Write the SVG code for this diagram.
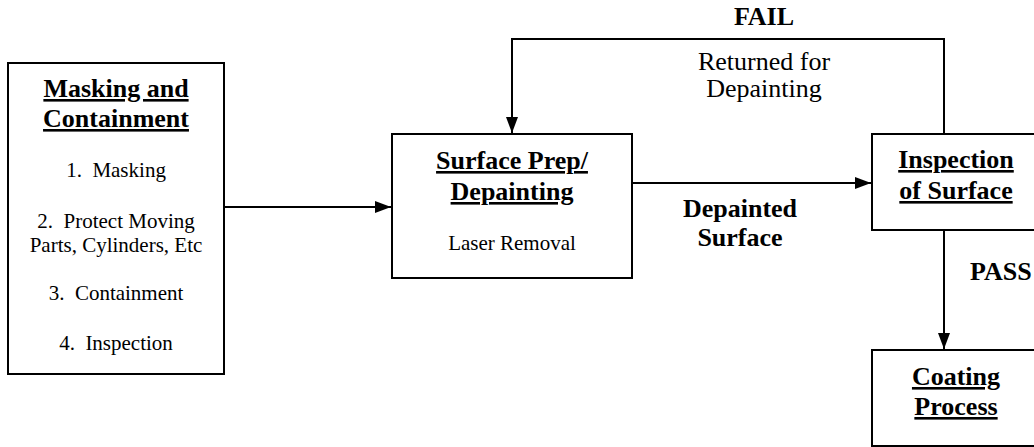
<svg xmlns="http://www.w3.org/2000/svg" width="1034" height="447" viewBox="0 0 1034 447" font-family="'Liberation Serif', 'Times New Roman', Times, serif">
  <style>
    .box { fill: #ffffff; stroke: #000000; stroke-width: 2; }
    .conn { fill: none; stroke: #000000; stroke-width: 2; }
    text { fill: #000000; text-anchor: middle; white-space: pre; }
    .title { font-size: 26px; font-weight: bold; text-decoration: underline; }
    .item { font-size: 21px; }
    .lbl { font-size: 26px; font-weight: bold; }
    .lblr { font-size: 26px; }
  </style>
  <defs>
    <marker id="arrow" markerUnits="userSpaceOnUse" markerWidth="16" markerHeight="12" refX="16" refY="6" orient="auto">
      <path d="M0,0 L16,6 L0,12 Z" fill="#000000"/>
    </marker>
  </defs>
  <rect width="1034" height="447" fill="#ffffff"/>

  <g id="connectors">
    <line class="conn" x1="224" y1="207" x2="391" y2="207" marker-end="url(#arrow)"/>
    <line class="conn" x1="632" y1="183" x2="871" y2="183" marker-end="url(#arrow)"/>
    <path class="conn" d="M944,134 V39 H512 V133" marker-end="url(#arrow)"/>
    <line class="conn" x1="944" y1="230" x2="944" y2="349" marker-end="url(#arrow)"/>
    <text class="lbl" x="764" y="25">FAIL</text>
    <text class="lblr" x="764" y="70">Returned for</text>
    <text class="lblr" x="764" y="97">Depainting</text>
    <text class="lbl" x="740" y="217">Depainted</text>
    <text class="lbl" x="740" y="246">Surface</text>
    <text class="lbl" x="970" y="280" style="text-anchor:start">PASS</text>
  </g>

  <g id="masking">
    <rect class="box" x="8" y="63" width="216" height="311"/>
    <text class="title" x="116" y="97">Masking and</text>
    <text class="title" x="116" y="127">Containment</text>
    <text class="item" x="116" y="177">1.  Masking</text>
    <text class="item" x="116" y="228">2.  Protect Moving</text>
    <text class="item" x="116" y="252">Parts, Cylinders, Etc</text>
    <text class="item" x="116" y="300">3.  Containment</text>
    <text class="item" x="116" y="350">4.  Inspection</text>
  </g>

  <g id="surface-prep">
    <rect class="box" x="392" y="134" width="240" height="144"/>
    <text class="title" x="512" y="169">Surface Prep/</text>
    <text class="title" x="512" y="200">Depainting</text>
    <text class="item" x="512" y="250">Laser Removal</text>
  </g>

  <g id="inspection">
    <rect class="box" x="872" y="134" width="170" height="96"/>
    <text class="title" x="956" y="168">Inspection</text>
    <text class="title" x="956" y="199">of Surface</text>
  </g>

  <g id="coating">
    <rect class="box" x="872" y="350" width="170" height="96"/>
    <text class="title" x="956" y="385">Coating</text>
    <text class="title" x="956" y="415">Process</text>
  </g>
</svg>
